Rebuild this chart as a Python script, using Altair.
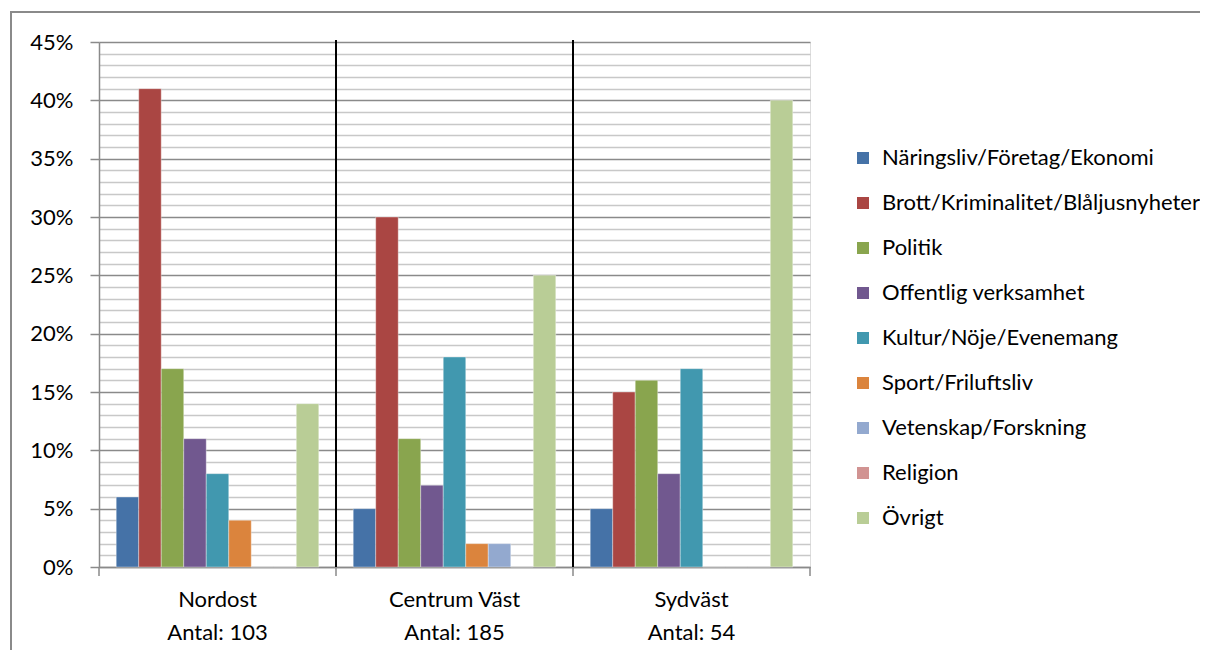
import altair as alt
import pandas as pd

groups = ["Nordost", "Centrum Väst", "Sydväst"]
antal = [103, 185, 54]
categories = [
    "Näringsliv/Företag/Ekonomi",
    "Brott/Kriminalitet/Blåljusnyheter",
    "Politik",
    "Offentlig verksamhet",
    "Kultur/Nöje/Evenemang",
    "Sport/Friluftsliv",
    "Vetenskap/Forskning",
    "Religion",
    "Övrigt",
]
colors = ["#4572A7", "#AA4643", "#89A54E", "#71588F", "#4198AF",
          "#DB843D", "#93A9CF", "#D19392", "#B9CD96"]
nordost = [6, 41, 17, 11, 8, 4, 0, 0, 14]
centrum_vast = [5, 30, 11, 7, 18, 2, 2, 0, 25]
sydvast = [5, 15, 16, 8, 17, 0, 0, 0, 40]
y_ticks = list(range(0, 46))

labels = [f"{g}|Antal: {n}" for g, n in zip(groups, antal)]
rows = []
for lab, series in zip(labels, [nordost, centrum_vast, sydvast]):
    for c, v in zip(categories, series):
        rows.append({"grp": lab, "cat": c, "val": v})
df = pd.DataFrame(rows)

W, H = 711, 525
FONT = "Lato"
FS = 22
GRID_MAJOR = "#8a8a8a"
GRID_MINOR = "#c8c8c8"

xscale = alt.Scale(domain=labels, paddingInner=0, paddingOuter=0)
xaxis = alt.Axis(labelExpr="split(datum.label, '|')", labelAngle=0,
                 ticks=False, labelPadding=22, labelLineHeight=33,
                 domainColor=GRID_MAJOR, domainWidth=1.5, grid=False,
                 labelFont=FONT, labelFontSize=FS, labelColor="black")

bars = alt.Chart(df).mark_bar(stroke="white", strokeWidth=0.6, strokeOpacity=0.6).encode(
    x=alt.X("grp:N", scale=xscale, title=None, axis=xaxis),
    xOffset=alt.XOffset("cat:N", sort=categories,
                        scale=alt.Scale(domain=categories, paddingOuter=0.765, paddingInner=0)),
    y=alt.Y("val:Q", scale=alt.Scale(domain=[0, 45], nice=False), title=None,
            axis=alt.Axis(values=y_ticks,
                          labelExpr="datum.value % 5 === 0 ? datum.value + '%' : ''",
                          gridColor=alt.condition("datum.value % 5 === 0",
                                                  alt.value(GRID_MAJOR), alt.value(GRID_MINOR)),
                          tickColor=alt.condition("datum.value % 5 === 0",
                                                  alt.value(GRID_MAJOR), alt.value("transparent")),
                          gridWidth=1.3, tickSize=9, tickWidth=1.5, labelPadding=17,
                          domainColor=GRID_MAJOR, domainWidth=1.5,
                          labelFont=FONT, labelFontSize=FS, labelColor="black")),
    color=alt.Color("cat:N", scale=alt.Scale(domain=categories, range=colors),
                    legend=alt.Legend(title=None, orient="none", legendX=753, legendY=105,
                                      symbolType="square", symbolSize=144,
                                      symbolStrokeWidth=0, labelFont=FONT,
                                      labelFontSize=22, labelColor="black",
                                      labelOffset=8, rowPadding=23, padding=0,
                                      labelLimit=400)),
)

sep_df = pd.DataFrame({"grp": labels[1:]})
separators = alt.Chart(sep_df).mark_rule(color="black", strokeWidth=2).encode(
    x=alt.X("grp:N", bandPosition=0, title=None, axis=xaxis),
    y=alt.value(-2), y2=alt.value(H),
)

tick_df = pd.DataFrame({"grp": labels})
ticks_left = alt.Chart(tick_df).mark_rule(color=GRID_MAJOR, strokeWidth=1.5).encode(
    x=alt.X("grp:N", bandPosition=0, title=None, axis=xaxis),
    y=alt.value(H), y2=alt.value(H + 9),
)
ticks_right = alt.Chart(tick_df.tail(1)).mark_rule(color=GRID_MAJOR, strokeWidth=1.5).encode(
    x=alt.X("grp:N", bandPosition=1, title=None, axis=xaxis),
    y=alt.value(H), y2=alt.value(H + 9),
)

frame = alt.Chart(pd.DataFrame({"a": [0]})).mark_rect(
    fill=None, fillOpacity=0, stroke=GRID_MAJOR, strokeWidth=2
).encode(
    x=alt.value(-88), x2=alt.value(5000), y=alt.value(-30), y2=alt.value(5000)
)

chart = alt.layer(frame, bars, separators, ticks_left, ticks_right).properties(
    width=W, height=H,
    autosize=alt.AutoSizeParams(type="none"),
    padding={"left": 91, "top": 34, "right": 390, "bottom": 83},
).configure_view(stroke=None).configure(font=FONT)

chart.save("out.html", embed_options={"renderer": "svg", "actions": False})
